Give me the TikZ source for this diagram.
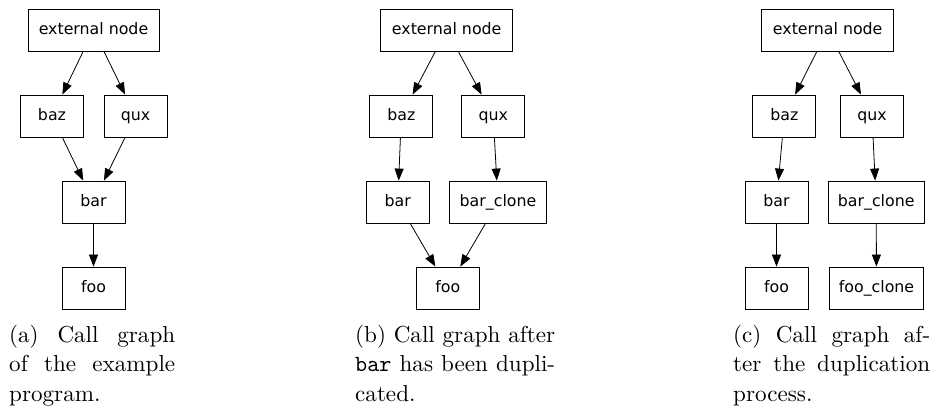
\documentclass[tikz,border=0pt]{standalone}
\usepackage{fontspec}
\newfontfamily\dvs{DejaVu Sans}
\newfontfamily\capfont{lmroman10-regular.otf}
\newfontfamily\captt{lmmono10-regular.otf}
\usetikzlibrary{arrows.meta}
\begin{document}
\begin{tikzpicture}[x=1pt,y=-1pt,
  box/.style={draw=black, line width=0.8pt, minimum height=42pt, minimum width=63pt, inner sep=0pt,
    font=\dvs\fontsize{15.8}{18}\selectfont, text height=12pt, text depth=3.4pt},
  edge/.style={draw=black, line width=0.8pt, -{Triangle[length=12pt,width=9pt]}},
  capl/.style={anchor=base west, inner sep=0pt, font=\capfont\fontsize{23.1}{30}\selectfont}]
\useasboundingbox (0,0) rectangle (940,406);

% (a)
\node[box, minimum width=131pt] (aext) at (93.5,30) {external node};
\node[box] (abaz) at (52,116) {baz};
\node[box] (aqux) at (135.5,116) {qux};
\node[box] (abar) at (93.5,202) {bar};
\node[box] (afoo) at (93.5,288) {foo};
\draw[edge] (aext) -- (abaz);
\draw[edge] (aext) -- (aqux);
\draw[edge] (abaz) -- (abar);
\draw[edge] (aqux) -- (abar);
\draw[edge] (abar) -- (afoo);

% (b)
\node[box, minimum width=132pt] (bext) at (446.7,30) {external node};
\node[box] (bbaz) at (401.3,116) {baz};
\node[box] (bqux) at (493.2,116) {qux};
\node[box] (bbar) at (397.8,202) {bar};
\node[box, minimum width=97.4pt] (bbarc) at (498,202) {bar\_clone};
\node[box] (bfoo) at (447.8,288) {foo};
\draw[edge] (bext) -- (bbaz);
\draw[edge] (bext) -- (bqux);
\draw[edge] (bbaz) -- (bbar);
\draw[edge] (bqux) -- (bbarc);
\draw[edge] (bbar) -- (bfoo);
\draw[edge] (bbarc) -- (bfoo);

% (c)
\node[box, minimum width=132pt] (cext) at (827.7,30) {external node};
\node[box] (cbaz) at (784.3,116) {baz};
\node[box] (cqux) at (872,116) {qux};
\node[box] (cbar) at (776.5,202) {bar};
\node[box, minimum width=96.3pt] (cbarc) at (876.2,202) {bar\_clone};
\node[box] (cfoo) at (776.5,288) {foo};
\node[box, minimum width=94.4pt] (cfooc) at (876.5,288) {foo\_clone};
\draw[edge] (cext) -- (cbaz);
\draw[edge] (cext) -- (cqux);
\draw[edge] (cbaz) -- (cbar);
\draw[edge] (cqux) -- (cbarc);
\draw[edge] (cbar) -- (cfoo);
\draw[edge] (cbarc) -- (cfooc);

% captions
\node[capl] (capa1) at (9,342) {\makebox[166pt][s]{(a) Call graph}};
\node[capl] (capa2) at (9,371.5) {\makebox[166pt][s]{of the example}};
\node[capl] (capa3) at (9,401) {program.};

\node[capl] (capb1) at (355,342) {\makebox[200pt][s]{(b) Call graph after}};
\node[capl] (capb2) at (355,371.5) {\makebox[200pt][s]{{\captt bar} has been dupli-}};
\node[capl] (capb3) at (355,401) {cated.};

\node[capl] (capc1) at (733,342) {\makebox[197pt][s]{(c) Call graph af-}};
\node[capl] (capc2) at (733,371.5) {\makebox[197pt][s]{ter the duplication}};
\node[capl] (capc3) at (733,401) {process.};
\end{tikzpicture}
\end{document}
